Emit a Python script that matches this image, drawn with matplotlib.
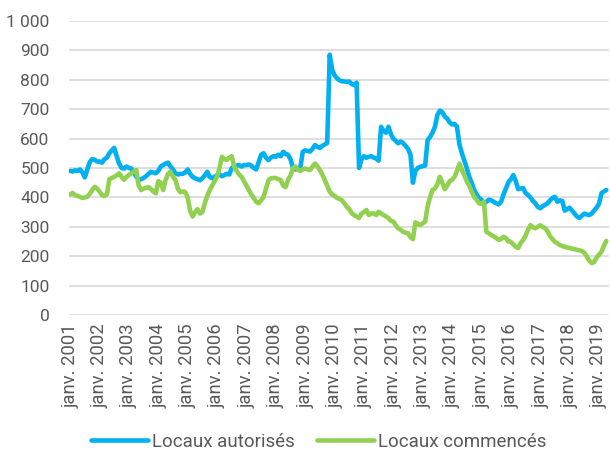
import matplotlib.pyplot as plt
import numpy as np

plt.rcParams["font.family"] = ["Roboto", "DejaVu Sans"]

# Valeurs mensuelles, janv. 2001 -> avr. 2019
autorises = [
    490, 488, 492, 490, 495, 485, 468, 495, 520, 530, 528, 522,  # 2001
    522, 518, 530, 535, 550, 560, 568, 540, 515, 500, 498, 505,  # 2002
    500, 498, 485, 470, 460, 462, 466, 472, 480, 487, 484, 482,  # 2003
    490, 505, 510, 515, 518, 505, 495, 482, 478, 480, 480, 485,  # 2004
    495, 480, 470, 465, 462, 458, 465, 475, 487, 470, 465, 470,  # 2005
    475, 478, 472, 476, 480, 478, 500, 505, 508, 510, 505, 510,  # 2006
    510, 512, 508, 500, 495, 520, 545, 550, 535, 527, 535, 540,  # 2007
    538, 545, 540, 555, 548, 545, 530, 500, 495, 498, 500, 555,  # 2008
    560, 558, 556, 565, 578, 572, 568, 575, 580, 585, 885, 835,  # 2009
    815, 805, 798, 795, 794, 793, 794, 785, 782, 790, 500, 530,  # 2010
    540, 535, 538, 540, 535, 532, 525, 640, 625, 620, 640, 615,  # 2011
    600, 592, 584, 590, 585, 575, 565, 545, 450, 490, 500, 504,  # 2012
    506, 508, 595, 605, 620, 640, 680, 695, 690, 675, 668, 655,  # 2013
    648, 650, 640, 580, 550, 525, 500, 470, 450, 425, 410, 398,  # 2014
    392, 380, 385, 392, 390, 385, 380, 376, 385, 410, 430, 452,  # 2015
    462, 476, 455, 428, 430, 432, 415, 408, 400, 388, 380, 368,  # 2016
    363, 370, 375, 380, 390, 398, 402, 385, 390, 388, 355, 360,  # 2017
    365, 355, 345, 335, 330, 338, 345, 342, 340, 345, 355, 365,  # 2018
    378, 414, 420, 425,                                          # 2019
]

commences = [
    410, 415, 408, 405, 402, 398, 400, 402, 412, 425, 436, 430,  # 2001
    420, 408, 405, 410, 462, 466, 470, 475, 482, 470, 460, 470,  # 2002
    476, 482, 488, 493, 440, 425, 430, 432, 435, 428, 420, 414,  # 2003
    455, 450, 425, 460, 480, 487, 470, 459, 430, 418, 420, 418,  # 2004
    400, 355, 335, 350, 360, 345, 350, 380, 405, 425, 440, 455,  # 2005
    470, 500, 538, 530, 528, 535, 540, 505, 490, 478, 470, 455,  # 2006
    440, 425, 410, 398, 385, 380, 390, 402, 430, 458, 465, 466,  # 2007
    466, 462, 459, 440, 435, 460, 475, 500, 505, 495, 490, 495,  # 2008
    498, 495, 493, 505, 515, 505, 493, 478, 459, 440, 420, 410,  # 2009
    405, 398, 395, 390, 380, 368, 360, 346, 340, 335, 330, 345,  # 2010
    350, 357, 340, 345, 346, 340, 351, 345, 340, 335, 330, 320,  # 2011
    318, 305, 295, 290, 283, 280, 278, 265, 258, 315, 310, 306,  # 2012
    312, 318, 370, 400, 425, 430, 445, 470, 450, 428, 440, 455,  # 2013
    460, 470, 490, 515, 495, 475, 455, 440, 420, 402, 392, 380,  # 2014
    378, 385, 283, 278, 272, 268, 262, 256, 258, 266, 262, 250,  # 2015
    249, 240, 232, 228, 245, 255, 270, 290, 306, 298, 295, 300,  # 2016
    305, 300, 295, 285, 268, 258, 249, 244, 238, 235, 232, 230,  # 2017
    228, 226, 224, 222, 220, 218, 212, 200, 185, 177, 180, 195,  # 2018
    205, 215, 235, 252,                                          # 2019
]

annees = list(range(2001, 2020))
tick_labels = [f"janv. {a}" for a in annees]
y_ticks = [0, 100, 200, 300, 400, 500, 600, 700, 800, 900, 1000]
y_labels = ["0", "100", "200", "300", "400", "500", "600", "700", "800", "900", "1 000"]

BLUE = "#00B0F0"
GREEN = "#92D050"
GREY = "#595959"

fig = plt.figure(figsize=(6.1, 4.54), dpi=100)
ax = fig.add_axes([0.113, 0.306, 0.885, 0.648])

x = np.arange(len(autorises))
ax.plot(x, autorises, color=BLUE, lw=3.3, label="Locaux autorisés", solid_capstyle="round")
ax.plot(x, commences, color=GREEN, lw=3.3, label="Locaux commencés", solid_capstyle="round")

ax.set_ylim(0, 1000)
ax.set_xlim(-0.5, 220)
ax.set_yticks(y_ticks)
ax.set_yticklabels(y_labels)
ax.set_xticks([12 * i for i in range(len(annees))])
ax.set_xticklabels(tick_labels, rotation=90)

ax.grid(axis="y", color="#D9D9D9", lw=1.2)
ax.set_axisbelow(True)
for s in ax.spines.values():
    s.set_visible(False)
ax.tick_params(axis="both", length=0, labelcolor=GREY)
ax.tick_params(axis="y", labelsize=12.5, pad=14)
ax.tick_params(axis="x", labelsize=13.3, pad=6)

fig.legend(loc="lower center", bbox_to_anchor=(0.523, -0.013), ncol=2, frameon=False,
           fontsize=13.5, handlelength=3.0, handletextpad=0.25, columnspacing=1.2,
           borderpad=0.0, labelcolor=GREY)

fig.savefig("out.png", dpi=100)
